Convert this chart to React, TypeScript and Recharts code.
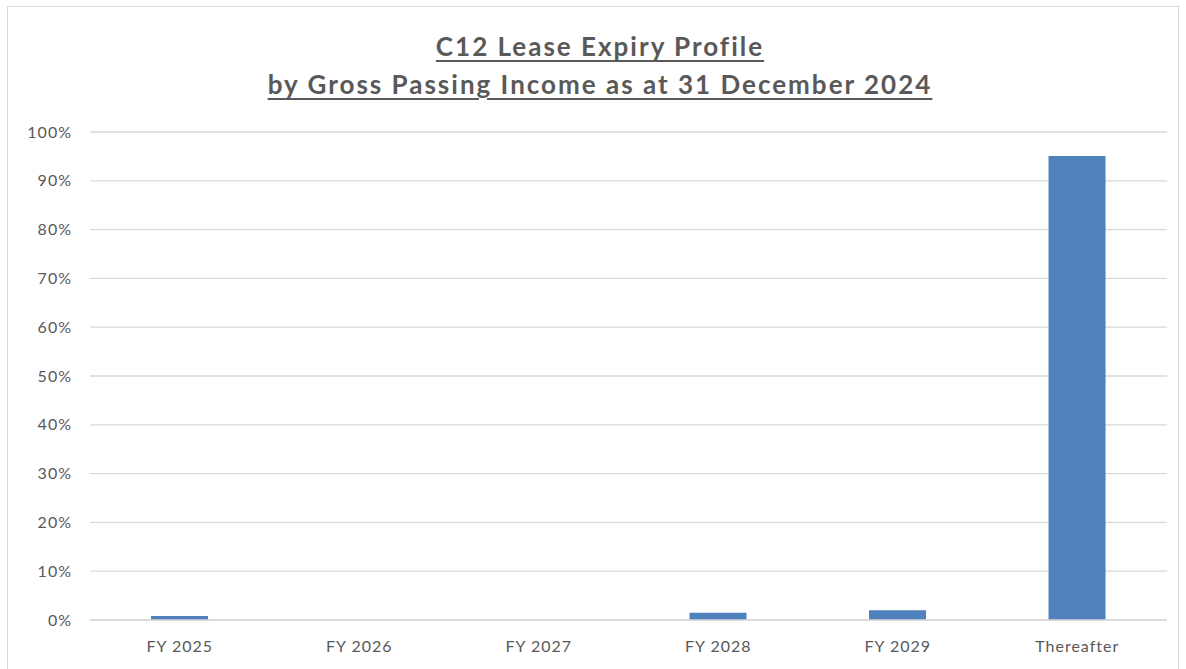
import React from "react";
import { Bar, BarChart, CartesianGrid, XAxis, YAxis } from "recharts";

const categories = ["FY 2025", "FY 2026", "FY 2027", "FY 2028", "FY 2029", "Thereafter"];
const expiryShare = [0.8, 0, 0, 1.5, 2.0, 95.1];
const yTicks = [0, 10, 20, 30, 40, 50, 60, 70, 80, 90, 100];

const titleLines = ["C12 Lease Expiry Profile", "by Gross Passing Income as at 31 December 2024"];

const BAR = "#4F81BD";
const GRID = "#D9D9D9";
const TEXT = "#595959";
const FONT = "Lato, 'Open Sans', sans-serif";

const data = categories.map((name, i) => ({ name, value: expiryShare[i] }));

export default function App() {
  return (
    <div style={{ position: "absolute", left: 0, top: 0, width: 1186, height: 669, background: "#fff", fontFamily: FONT }}>
      <div
        style={{
          position: "absolute",
          left: 7,
          top: 6,
          width: 1172,
          height: 670,
          border: "1.5px solid #D9D9D9",
          boxSizing: "border-box",
        }}
      />
      <div
        style={{
          position: "absolute",
          left: 0,
          top: 27,
          width: 1200,
          textAlign: "center",
          color: TEXT,
          fontWeight: 700,
          fontSize: 26,
          letterSpacing: 2,
          lineHeight: "38px",
          textDecoration: "underline",
          textDecorationThickness: 2,
          textUnderlineOffset: 4,
        }}
      >
        {titleLines.map((t) => (
          <div key={t}>{t}</div>
        ))}
      </div>
      <div style={{ position: "absolute", left: 0, top: 0 }}>
        <BarChart
          width={1186}
          height={669}
          data={data}
          margin={{ top: 132, right: 19, bottom: 19, left: 30 }}
          barCategoryGap="34%"
        >
          <CartesianGrid vertical={false} stroke={GRID} strokeWidth={1.3} />
          <XAxis
            dataKey="name"
            height={30}
            tickSize={0}
            tickMargin={21}
            axisLine={{ stroke: GRID, strokeWidth: 1.3 }}
            tick={{ fill: TEXT, fontSize: 16, fontFamily: FONT, letterSpacing: 1 }}
          />
          <YAxis
            width={60}
            domain={[0, 100]}
            ticks={yTicks}
            tickFormatter={(v: number) => `${v}%`}
            tickSize={0}
            tickMargin={18}
            axisLine={false}
            tick={{ fill: TEXT, fontSize: 16, fontFamily: FONT, letterSpacing: 1 }}
          />
          <Bar dataKey="value" fill={BAR} isAnimationActive={false} />
        </BarChart>
      </div>
    </div>
  );
}
